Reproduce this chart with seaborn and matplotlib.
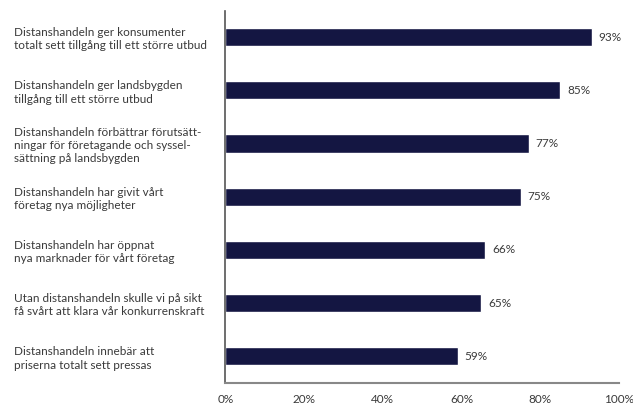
import seaborn as sns
import matplotlib.pyplot as plt
import pandas as pd

sns.set_style('white')
plt.rcParams['font.family'] = ['Lato', 'DejaVu Sans']

# Data
statements = [
    'Distanshandeln ger konsumenter\ntotalt sett tillgång till ett större utbud',
    'Distanshandeln ger landsbygden\ntillgång till ett större utbud',
    'Distanshandeln förbättrar förutsätt-\nningar för företagande och syssel-\nsättning på landsbygden',
    'Distanshandeln har givit vårt\nföretag nya möjligheter',
    'Distanshandeln har öppnat\nnya marknader för vårt företag',
    'Utan distanshandeln skulle vi på sikt\nfå svårt att klara vår konkurrenskraft',
    'Distanshandeln innebär att\npriserna totalt sett pressas',
]
shares = [93, 85, 77, 75, 66, 65, 59]
xticks = [0, 20, 40, 60, 80, 100]

df = pd.DataFrame({'Statement': statements, 'Share': shares})

bar_color = '#141642'
text_color = '#3a3a3a'

fig = plt.figure(figsize=(6.33, 4.04), dpi=100)
ax = fig.add_axes([0.356, 0.052, 0.622, 0.922])

sns.barplot(data=df, x='Share', y='Statement', color=bar_color,
            width=0.34, saturation=1, ax=ax)

# value labels
for i, v in enumerate(shares):
    ax.text(v + 1.8, i, f'{v}%', va='center', ha='left',
            fontsize=8.5, color=text_color)

ax.set_xlim(0, 100)
ax.set_ylim(len(statements) - 0.5, -0.5)
ax.set_xticks(xticks)
ax.set_xticklabels([f'{t}%' for t in xticks], fontsize=8.5, color=text_color)
ax.set_xlabel('')
ax.set_ylabel('')

ax.set_yticks(range(len(statements)))
ax.set_yticklabels(statements, fontsize=8.5, color=text_color,
                   ha='left', linespacing=1.25)
ax.tick_params(axis='y', length=0, pad=152)
ax.tick_params(axis='x', direction='in', length=4, color='#888888',
               width=1, pad=8)

# small tick at top of category axis
ax.set_yticks([-0.5], minor=True)
ax.tick_params(axis='y', which='minor', length=3, color='#555555',
               direction='out', width=1)

for side in ['top', 'right']:
    ax.spines[side].set_visible(False)
ax.spines['left'].set_color('#555555')
ax.spines['left'].set_linewidth(1.2)
ax.spines['bottom'].set_color('#888888')
ax.spines['bottom'].set_linewidth(1.5)

plt.savefig('out.png', dpi=100)
